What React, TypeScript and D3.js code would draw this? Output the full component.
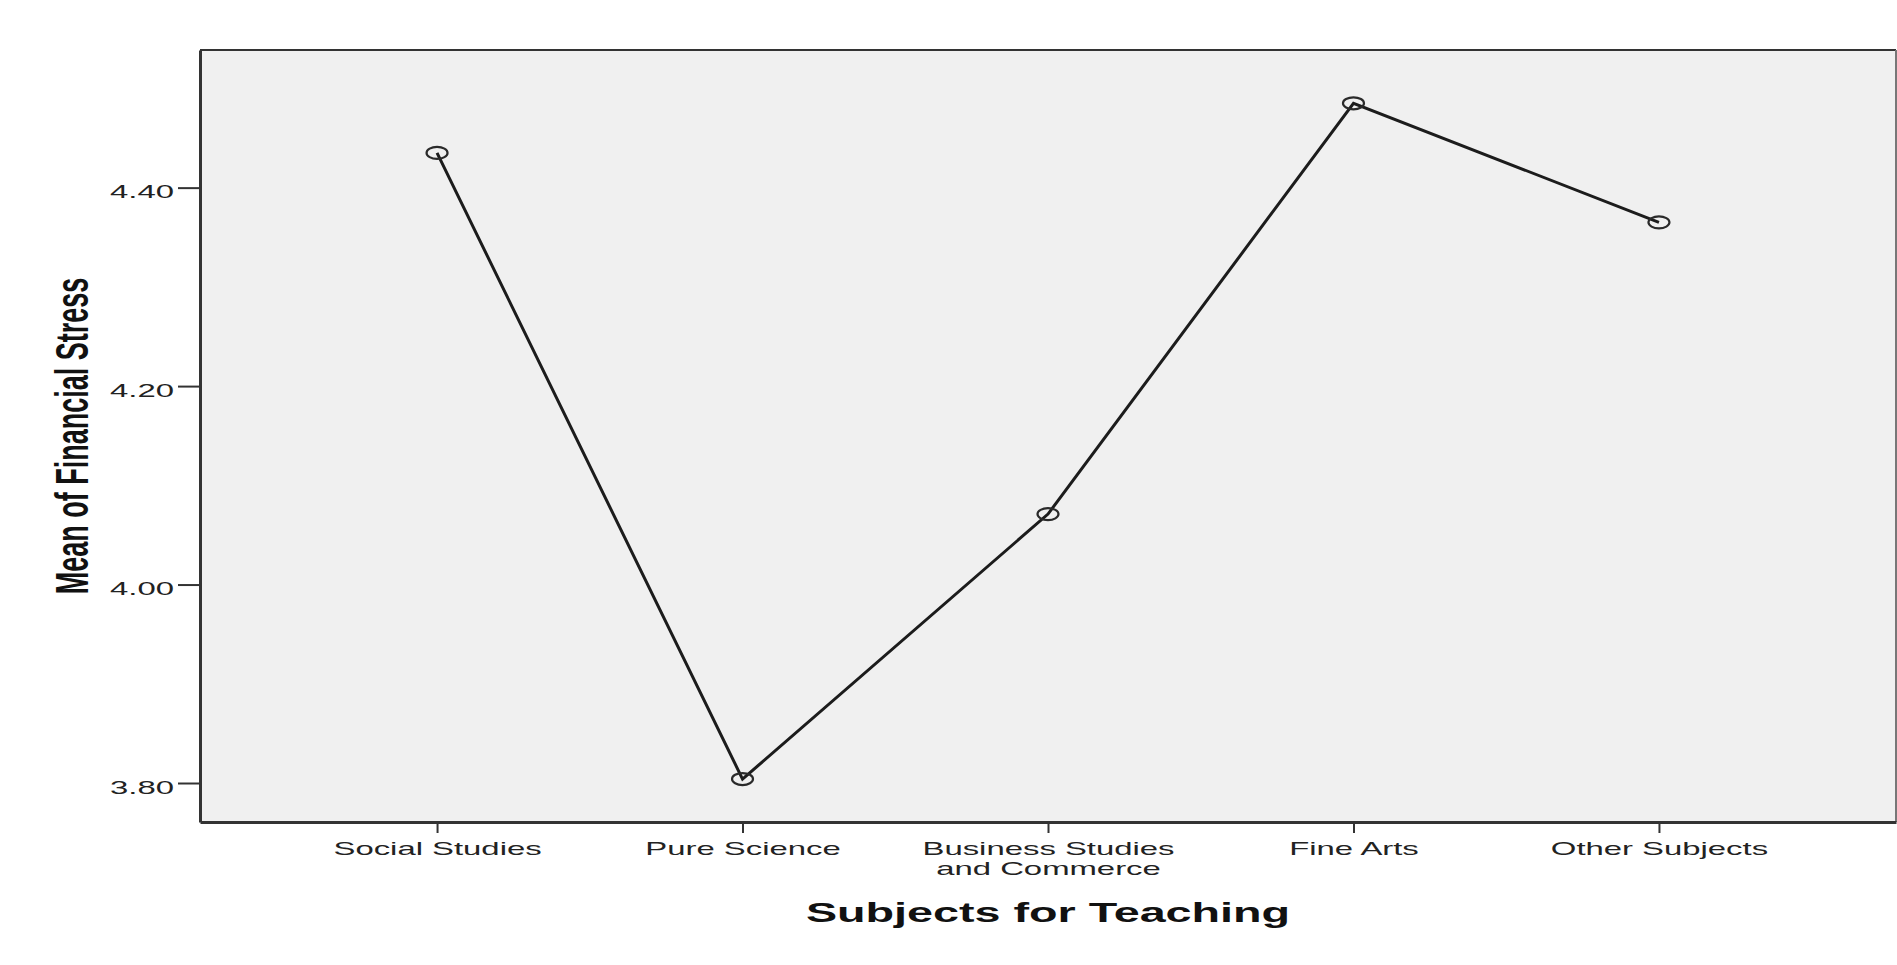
import { useEffect, useRef } from "react";
import * as d3 from "d3";

const subjects = [
  "Social Studies",
  "Pure Science",
  "Business Studies|and Commerce",
  "Fine Arts",
  "Other Subjects",
];
const means = [4.435, 3.804, 4.071, 4.485, 4.365];
const yTicks = [3.8, 4.0, 4.2, 4.4];

const xTitle = "Subjects for Teaching";
const yTitle = "Mean of Financial Stress";

const App = () => {
  const ref = useRef<SVGSVGElement | null>(null);

  const width = 1897;
  const height = 965;
  const left = 200;
  const right = 1896;
  const top = 50;
  const bottom = 822;
  // the picture is stretched sideways, so text is too
  const sx = 1.73;
  const font = "'Liberation Sans', Arial, sans-serif";

  useEffect(() => {
    const svg = d3.select(ref.current);
    svg.selectAll("*").remove();

    const x = d3.scalePoint<string>().domain(subjects).range([left, right]).padding(0.776);
    const y = d3.scaleLinear().domain([3.7607, 4.5387]).range([bottom, top]);

    // plot background
    svg
      .append("rect")
      .attr("x", left)
      .attr("y", top)
      .attr("width", right - left)
      .attr("height", bottom - top)
      .attr("fill", "#f0f0f0");

    svg
      .append("line")
      .attr("x1", left)
      .attr("x2", right)
      .attr("y1", top)
      .attr("y2", top)
      .attr("stroke", "#333")
      .attr("stroke-width", 2);
    svg
      .append("line")
      .attr("x1", right)
      .attr("x2", right)
      .attr("y1", top)
      .attr("y2", bottom)
      .attr("stroke", "#777")
      .attr("stroke-width", 2);

    // y axis
    const yAxis = svg
      .append("g")
      .attr("transform", `translate(${left},0)`)
      .call(
        d3
          .axisLeft(y)
          .tickValues(yTicks)
          .tickFormat(d3.format(".2f"))
          .tickSize(22)
          .tickSizeOuter(0)
      );
    yAxis.select(".domain").attr("stroke", "#333").attr("stroke-width", 3);
    yAxis.selectAll(".tick line").attr("stroke", "#333").attr("stroke-width", 2);
    yAxis
      .selectAll(".tick text")
      .attr("x", null)
      .attr("dy", null)
      .attr("transform", `translate(-26,10) scale(${sx},1)`)
      .attr("text-anchor", "end")
      .attr("font-family", font)
      .attr("font-size", 19)
      .attr("fill", "#222");

    // x axis
    const xAxis = svg
      .append("g")
      .attr("transform", `translate(0,${bottom})`)
      .call(d3.axisBottom(x).tickSize(11).tickSizeOuter(0));
    xAxis.select(".domain").attr("stroke", "#333").attr("stroke-width", 3);
    xAxis.selectAll(".tick line").attr("stroke", "#333").attr("stroke-width", 2);
    xAxis
      .selectAll<SVGTextElement, string>(".tick text")
      .attr("y", null)
      .attr("dy", null)
      .attr("transform", `translate(0,33) scale(${sx},1)`)
      .attr("text-anchor", "middle")
      .attr("font-family", font)
      .attr("font-size", 19)
      .attr("fill", "#222")
      .text(null)
      .each(function (d) {
        const t = d3.select(this);
        d.split("|").forEach((part, i) => {
          t.append("tspan").attr("x", 0).attr("y", i * 20).text(part);
        });
      });

    // line + markers
    const pts = subjects.map((s, i) => ({ s, v: means[i] }));
    const line = d3
      .line<{ s: string; v: number }>()
      .x((d) => x(d.s) as number)
      .y((d) => y(d.v));

    svg
      .append("path")
      .datum(pts)
      .attr("fill", "none")
      .attr("stroke", "#1c1c1c")
      .attr("stroke-width", 3)
      .attr("d", line);

    svg
      .selectAll(".marker")
      .data(pts)
      .enter()
      .append("ellipse")
      .attr("cx", (d) => x(d.s) as number)
      .attr("cy", (d) => y(d.v))
      .attr("rx", 10.5)
      .attr("ry", 6)
      .attr("fill", "none")
      .attr("stroke", "#2a2a2a")
      .attr("stroke-width", 2.2);

    // titles
    svg
      .append("text")
      .attr("transform", `translate(${(left + right) / 2},922) scale(${sx},1)`)
      .attr("text-anchor", "middle")
      .attr("font-family", font)
      .attr("font-weight", "bold")
      .attr("font-size", 27)
      .attr("fill", "#111")
      .text(xTitle);

    svg
      .append("text")
      .attr("transform", `translate(88,${(top + bottom) / 2}) scale(${sx},1) rotate(-90)`)
      .attr("text-anchor", "middle")
      .attr("font-family", font)
      .attr("font-weight", "bold")
      .attr("font-size", 27)
      .attr("fill", "#111")
      .text(yTitle);
  });

  return (
    <svg
      ref={ref}
      width={width}
      height={height}
      style={{ position: "absolute", left: 0, top: 0, background: "#fff" }}
    />
  );
};

export default App;
